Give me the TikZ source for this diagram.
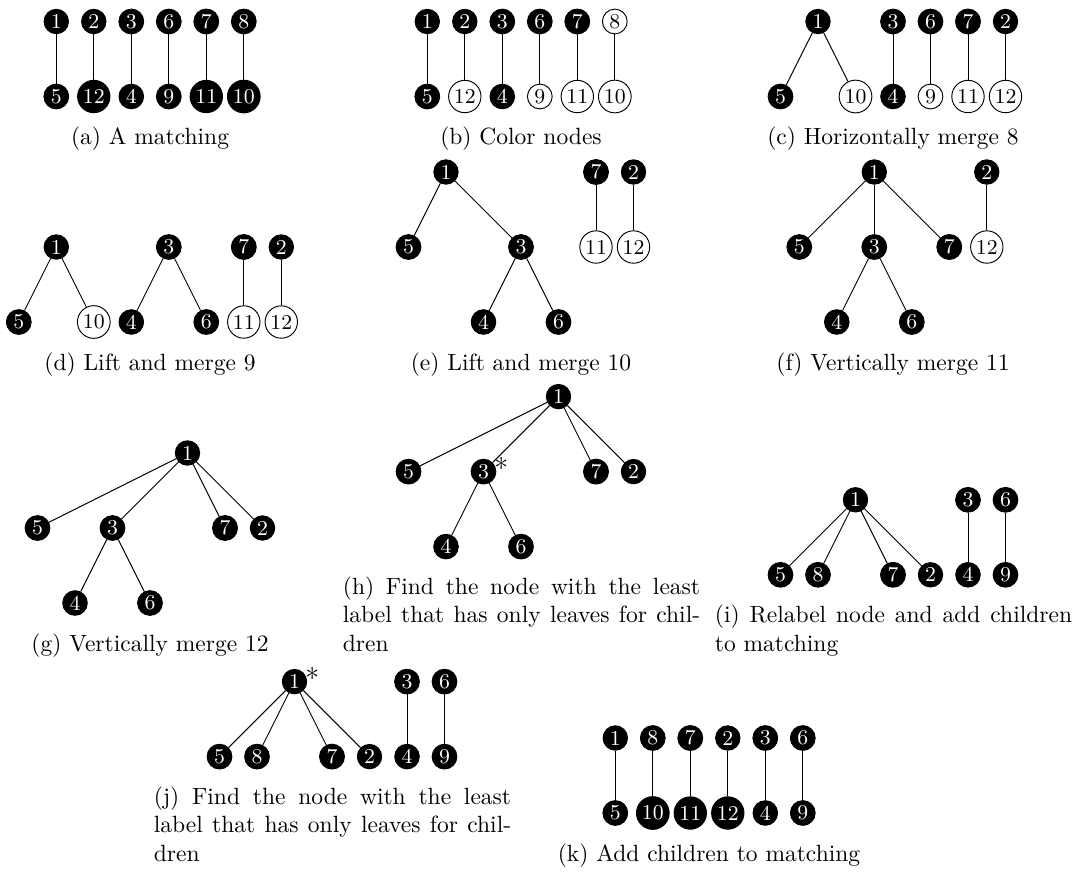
\documentclass[tikz,border=0pt]{standalone}
\usepackage{tikz}
\tikzset{
  bn/.style={circle,draw=black,fill=black,text=white,inner sep=1pt,font=\small},
  wn/.style={circle,draw=black,fill=white,text=black,inner sep=1pt,font=\small},
  marked/.style={label={[inner sep=0pt,xshift=-1pt,yshift=1.5pt,text=black,font=\large]east:*}},
  subcap/.style={anchor=base,inner sep=0pt},
  subcapm/.style={anchor=base west,inner sep=0pt,text width=152pt,align=justify}
}
\begin{document}
\begin{tikzpicture}[x=0.4255pt,y=-0.4255pt]
\useasboundingbox (0,0) rectangle (1082,875);
%(a)
\node[bn] (a1) at (56.3,21.5) {1};
\node[bn] (a2) at (93.8,21.5) {2};
\node[bn] (a3) at (131.3,21.5) {3};
\node[bn] (a6) at (168.8,21.5) {6};
\node[bn] (a7) at (206.3,21.5) {7};
\node[bn] (a8) at (243.8,21.5) {8};
\node[bn] (a5) at (56.3,96.5) {5};
\node[bn] (a12) at (93.8,96.5) {12};
\node[bn] (a4) at (131.3,96.5) {4};
\node[bn] (a9) at (168.8,96.5) {9};
\node[bn] (a11) at (206.3,96.5) {11};
\node[bn] (a10) at (243.8,96.5) {10};
\draw (a1) -- (a5);
\draw (a2) -- (a12);
\draw (a3) -- (a4);
\draw (a6) -- (a9);
\draw (a7) -- (a11);
\draw (a8) -- (a10);
%(b)
\node[bn] (b1) at (427.3,21.5) {1};
\node[bn] (b2) at (464.8,21.5) {2};
\node[bn] (b3) at (502.3,21.5) {3};
\node[bn] (b6) at (539.8,21.5) {6};
\node[bn] (b7) at (577.3,21.5) {7};
\node[wn] (b8) at (614.8,21.5) {8};
\node[bn] (b5) at (427.3,96.5) {5};
\node[wn] (b12) at (464.8,96.5) {12};
\node[bn] (b4) at (502.3,96.5) {4};
\node[wn] (b9) at (539.8,96.5) {9};
\node[wn] (b11) at (577.3,96.5) {11};
\node[wn] (b10) at (614.8,96.5) {10};
\draw (b1) -- (b5);
\draw (b2) -- (b12);
\draw (b3) -- (b4);
\draw (b6) -- (b9);
\draw (b7) -- (b11);
\draw (b8) -- (b10);
%(c)
\node[bn] (c1) at (818,21.5) {1};
\node[bn] (c3) at (893,21.5) {3};
\node[bn] (c6) at (930.5,21.5) {6};
\node[bn] (c7) at (968,21.5) {7};
\node[bn] (c2) at (1005.5,21.5) {2};
\node[bn] (c5) at (780.5,96.5) {5};
\node[wn] (c10) at (855.5,96.5) {10};
\node[bn] (c4) at (893,96.5) {4};
\node[wn] (c9) at (930.5,96.5) {9};
\node[wn] (c11) at (968,96.5) {11};
\node[wn] (c12) at (1005.5,96.5) {12};
\draw (c1) -- (c5);
\draw (c1) -- (c10);
\draw (c3) -- (c4);
\draw (c6) -- (c9);
\draw (c7) -- (c11);
\draw (c2) -- (c12);
%(d)
\node[bn] (d1) at (56.3,247) {1};
\node[bn] (d3) at (168.8,247) {3};
\node[bn] (d7) at (243.8,247) {7};
\node[bn] (d2) at (281.3,247) {2};
\node[bn] (d5) at (18.8,322) {5};
\node[wn] (d10) at (93.8,322) {10};
\node[bn] (d4) at (131.3,322) {4};
\node[bn] (d6) at (206.3,322) {6};
\node[wn] (d11) at (243.8,322) {11};
\node[wn] (d12) at (281.3,322) {12};
\draw (d1) -- (d5);
\draw (d1) -- (d10);
\draw (d3) -- (d4);
\draw (d3) -- (d6);
\draw (d7) -- (d11);
\draw (d2) -- (d12);
%(e)
\node[bn] (e1) at (446,172) {1};
\node[bn] (e7) at (596,172) {7};
\node[bn] (e2) at (633.5,172) {2};
\node[bn] (e5) at (408.5,247) {5};
\node[bn] (e3) at (521,247) {3};
\node[wn] (e11) at (596,247) {11};
\node[wn] (e12) at (633.5,247) {12};
\node[bn] (e4) at (483.5,322) {4};
\node[bn] (e6) at (558.5,322) {6};
\draw (e1) -- (e5);
\draw (e1) -- (e3);
\draw (e3) -- (e4);
\draw (e3) -- (e6);
\draw (e7) -- (e11);
\draw (e2) -- (e12);
%(f)
\node[bn] (f1) at (874.3,172) {1};
\node[bn] (f2) at (986.8,172) {2};
\node[bn] (f5) at (799.3,247) {5};
\node[bn] (f3) at (874.3,247) {3};
\node[bn] (f7) at (949.3,247) {7};
\node[wn] (f12) at (986.8,247) {12};
\node[bn] (f4) at (836.8,322) {4};
\node[bn] (f6) at (911.8,322) {6};
\draw (f1) -- (f5);
\draw (f1) -- (f3);
\draw (f1) -- (f7);
\draw (f3) -- (f4);
\draw (f3) -- (f6);
\draw (f2) -- (f12);
%(g)
\node[bn] (g1) at (187.5,453) {1};
\node[bn] (g5) at (37.5,528) {5};
\node[bn] (g3) at (112.5,528) {3};
\node[bn] (g7) at (225,528) {7};
\node[bn] (g2) at (262.5,528) {2};
\node[bn] (g4) at (75,603) {4};
\node[bn] (g6) at (150,603) {6};
\draw (g1) -- (g5);
\draw (g1) -- (g3);
\draw (g1) -- (g7);
\draw (g1) -- (g2);
\draw (g3) -- (g4);
\draw (g3) -- (g6);
%(h)
\node[bn] (h1) at (558.5,396.6) {1};
\node[bn] (h5) at (408.5,471.6) {5};
\node[bn,marked] (h3) at (483.5,471.6) {3};
\node[bn] (h7) at (596,471.6) {7};
\node[bn] (h2) at (633.5,471.6) {2};
\node[bn] (h4) at (446,546.6) {4};
\node[bn] (h6) at (521,546.6) {6};
\draw (h1) -- (h5);
\draw (h1) -- (h3);
\draw (h1) -- (h7);
\draw (h1) -- (h2);
\draw (h3) -- (h4);
\draw (h3) -- (h6);
%(i)
\node[bn] (i1) at (855.5,499.8) {1};
\node[bn] (i3) at (968,499.8) {3};
\node[bn] (i6) at (1005.5,499.8) {6};
\node[bn] (i5) at (780.5,574.8) {5};
\node[bn] (i8) at (818,574.8) {8};
\node[bn] (i7) at (893,574.8) {7};
\node[bn] (i2) at (930.5,574.8) {2};
\node[bn] (i4) at (968,574.8) {4};
\node[bn] (i9) at (1005.5,574.8) {9};
\draw (i1) -- (i5);
\draw (i1) -- (i8);
\draw (i1) -- (i7);
\draw (i1) -- (i2);
\draw (i3) -- (i4);
\draw (i6) -- (i9);
%(j)
\node[bn,marked] (j1) at (294.5,681.6) {1};
\node[bn] (j3) at (407,681.6) {3};
\node[bn] (j6) at (444.5,681.6) {6};
\node[bn] (j5) at (219.5,756.6) {5};
\node[bn] (j8) at (257,756.6) {8};
\node[bn] (j7) at (332,756.6) {7};
\node[bn] (j2) at (369.5,756.6) {2};
\node[bn] (j4) at (407,756.6) {4};
\node[bn] (j9) at (444.5,756.6) {9};
\draw (j1) -- (j5);
\draw (j1) -- (j8);
\draw (j1) -- (j7);
\draw (j1) -- (j2);
\draw (j3) -- (j4);
\draw (j6) -- (j9);
%(k)
\node[bn] (k1) at (615.3,738) {1};
\node[bn] (k8) at (652.8,738) {8};
\node[bn] (k7) at (690.3,738) {7};
\node[bn] (k2) at (727.8,738) {2};
\node[bn] (k3) at (765.3,738) {3};
\node[bn] (k6) at (802.8,738) {6};
\node[bn] (k5) at (615.3,813) {5};
\node[bn] (k10) at (652.8,813) {10};
\node[bn] (k11) at (690.3,813) {11};
\node[bn] (k12) at (727.8,813) {12};
\node[bn] (k4) at (765.3,813) {4};
\node[bn] (k9) at (802.8,813) {9};
\draw (k1) -- (k5);
\draw (k8) -- (k10);
\draw (k7) -- (k11);
\draw (k2) -- (k12);
\draw (k3) -- (k4);
\draw (k6) -- (k9);
%Text
\node[subcap] (capa) at (150,144.5) {(a) A matching};
\node[subcap] (capb) at (521,144.5) {(b) Color nodes};
\node[subcap] (capc) at (893,144.5) {(c) Horizontally merge 8};
\node[subcap] (capd) at (150,370) {(d) Lift and merge 9};
\node[subcap] (cape) at (521,370) {(e) Lift and merge 10};
\node[subcap] (capf) at (893,370) {(f) Vertically merge 11};
\node[subcap] (capg) at (150,651) {(g) Vertically merge 12};
\node[subcapm] (caph) at (342.4,594.6) {(h) Find the node with the least\linebreak label that has only leaves for chil-\linebreak dren};
\node[subcapm] (capi) at (714.4,622.8) {(i) Relabel node and add children to matching};
\node[subcapm] (capj) at (153.4,804.6) {(j) Find the node with the least\linebreak label that has only leaves for chil-\linebreak dren};
\node[subcap] (capk) at (709,861) {(k) Add children to matching};
\end{tikzpicture}
\end{document}
